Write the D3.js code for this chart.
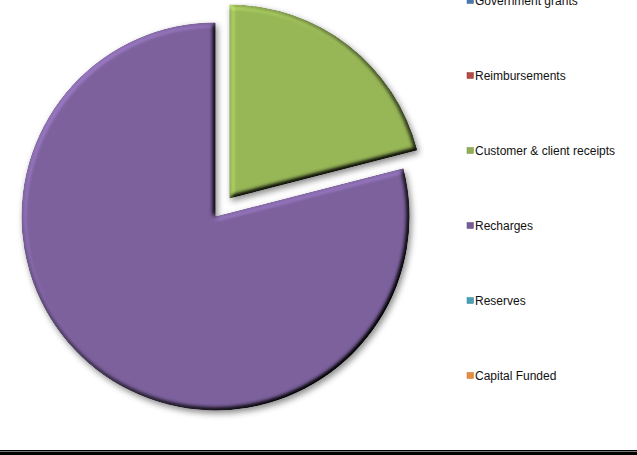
<!DOCTYPE html>
<html>
<head>
<meta charset="utf-8">
<script src="https://cdn.jsdelivr.net/npm/d3@7"></script>
<style>
  html, body { margin: 0; padding: 0; background: #fff; }
  svg { display: block; }
  text { font-family: "Liberation Sans", Arial, sans-serif; }
</style>
</head>
<body>
<svg id="chart" width="637" height="455"></svg>
<script>
// Funding sources (share of total)
const categories = ["Government grants", "Reimbursements", "Customer & client receipts", "Recharges", "Reserves", "Capital Funded"];
const values = [0, 0, 21, 79, 0, 0];
const colors = ["#4F81BD", "#C0504D", "#9BBB59", "#8064A2", "#4BACC6", "#F79646"];

const W = 637, H = 455;
const svg = d3.select("#chart");
const defs = svg.append("defs");

// Soft bevel + drop shadow for the slices
const elevation = 55;
const f = defs.append("filter").attr("id", "bevel")
  .attr("filterUnits", "userSpaceOnUse")
  .attr("x", 0).attr("y", 0).attr("width", W).attr("height", H)
  .attr("color-interpolation-filters", "sRGB");
f.append("feGaussianBlur").attr("in", "SourceAlpha").attr("stdDeviation", 3).attr("result", "shBlur");
f.append("feOffset").attr("in", "shBlur").attr("dx", 2).attr("dy", 3).attr("result", "shOff");
f.append("feFlood").attr("flood-color", "#000").attr("flood-opacity", 0.45).attr("result", "shCol");
f.append("feComposite").attr("in", "shCol").attr("in2", "shOff").attr("operator", "in").attr("result", "shadow");
f.append("feGaussianBlur").attr("in", "SourceAlpha").attr("stdDeviation", 2.4).attr("result", "bump");
const dl = f.append("feDiffuseLighting").attr("in", "bump").attr("surfaceScale", 4.5)
  .attr("diffuseConstant", 1).attr("lighting-color", "#fff").attr("result", "light");
dl.append("feDistantLight").attr("azimuth", 225).attr("elevation", elevation);
// normalise so the flat face keeps its own colour; edges facing the light get brighter
f.append("feComposite").attr("in", "light").attr("in2", "SourceGraphic")
  .attr("operator", "arithmetic").attr("k1", 1 / Math.sin(elevation * Math.PI / 180)).attr("result", "lit");
f.append("feComposite").attr("in", "lit").attr("in2", "SourceAlpha").attr("operator", "in").attr("result", "litClip");
const m = f.append("feMerge");
m.append("feMergeNode").attr("in", "shadow");
m.append("feMergeNode").attr("in", "litClip");

// Pie
const cx = 222.5, cy = 207.5, r = 194, explode = 11.3;
const pie = d3.pie().sort(null).value(d => d)(values);
const arc = d3.arc().innerRadius(0).outerRadius(r);

const g = svg.append("g").attr("filter", "url(#bevel)");
g.selectAll("path")
  .data(pie.filter(d => d.value > 0))
  .join("path")
  .attr("d", arc)
  .attr("fill", d => d3.color(colors[d.index]).darker(0.08))
  .attr("transform", d => {
    const a = (d.startAngle + d.endAngle) / 2;
    return `translate(${cx + explode * Math.sin(a)},${cy - explode * Math.cos(a)})`;
  });

// Legend
const legendY = d3.scalePoint().domain(categories).range([0.5, 375.5]);
const lg = svg.append("g");
const item = lg.selectAll("g").data(categories).join("g")
  .attr("transform", d => `translate(467,${legendY(d)})`);
item.append("rect")
  .attr("x", 0).attr("y", -3).attr("width", 6.5).attr("height", 6)
  .attr("fill", (d, i) => d3.color(colors[i]).darker(0.2))
  .attr("stroke", (d, i) => d3.color(colors[i]).darker(0.7))
  .attr("stroke-width", 0.5);
item.append("text")
  .attr("x", 8).attr("y", 4.3)
  .attr("font-size", 12)
  .attr("fill", "#111")
  .text(d => d);

// Frame line along the bottom
svg.append("rect").attr("x", 0).attr("y", 450).attr("width", W).attr("height", 5).attr("fill", "#000");
svg.append("line").attr("x1", 0).attr("x2", W).attr("y1", 451.5).attr("y2", 451.5)
  .attr("stroke", "#777").attr("stroke-width", 1);
</script>
</body>
</html>
